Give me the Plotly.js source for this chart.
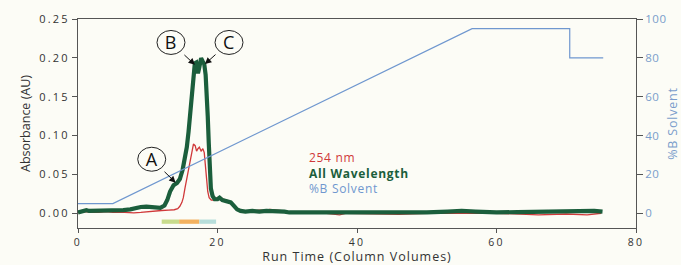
<!DOCTYPE html>
<html>
<head>
<meta charset="utf-8">
<script src="https://cdn.plot.ly/plotly-3.0.1.min.js"></script>
<style>
  html, body { margin: 0; padding: 0; background: #fcfcf6; }
  #chart { width: 681px; height: 265px; }
  #chart .ytick text { letter-spacing: 2.2px; }
  #chart .xtick text { letter-spacing: 2.3px; }
  #chart .y2tick text { letter-spacing: 0.5px; }
  #chart .xtitle { letter-spacing: 1.0px; }
  #chart .y2title { letter-spacing: 0.8px; }
  #chart .annotation-text { letter-spacing: 0.7px; }
</style>
</head>
<body>
<div id="chart"></div>
<script>
// Run time (column volumes) and absorbance for the "All Wavelength" trace
const timeAll = [0, 0.5, 1.2, 1.6, 2.5, 3.5, 4.5, 5.5, 6.5, 7.5, 8.3, 9.0, 9.8, 10.3, 10.8, 11.3, 11.8, 12.4, 12.8, 13.2, 13.7, 14.2, 14.6, 15.0, 15.3, 15.6, 15.85, 16.06, 16.3, 16.5, 16.75, 16.95, 17.2, 17.4, 17.65, 17.85, 18.1, 18.3, 18.45, 18.6, 18.75, 18.9, 19.05, 19.3, 19.6, 20.0, 20.3, 20.7, 21.1, 21.5, 21.9, 22.3, 22.8, 23.3, 24, 25, 26, 27, 28, 29, 29.6, 30.3, 32, 35, 40, 45, 50, 53, 55, 57, 60, 63, 66, 68, 70, 72, 74, 75.2];
const absAll = [0.001, 0.002, 0.004, 0.003, 0.003, 0.004, 0.003, 0.004, 0.004, 0.005, 0.007, 0.008, 0.0085, 0.008, 0.007, 0.0065, 0.007, 0.010, 0.017, 0.028, 0.036, 0.039, 0.044, 0.056, 0.068, 0.085, 0.105, 0.128, 0.155, 0.176, 0.193, 0.194, 0.180, 0.188, 0.1995, 0.196, 0.192, 0.178, 0.160, 0.125, 0.090, 0.055, 0.032, 0.022, 0.018, 0.018, 0.020, 0.017, 0.016, 0.016, 0.014, 0.010, 0.005, 0.003, 0.002, 0.003, 0.002, 0.003, 0.003, 0.003, 0.002, 0.001, 0.001, 0.001, 0.0005, 0.001, 0.001, 0.002, 0.003, 0.002, 0.001, 0.0015, 0.002, 0.003, 0.002, 0.003, 0.003, 0.002];

// 254 nm trace
const time254 = [0, 1, 2, 3, 4, 5, 6, 7, 8, 9, 10, 11, 12, 13, 13.8, 14.3, 14.6, 14.9, 15.1, 15.35, 15.6, 15.85, 16.1, 16.35, 16.55, 16.8, 17.0, 17.2, 17.4, 17.65, 17.9, 18.1, 18.3, 18.45, 18.6, 18.8, 19.1, 19.5, 20.0, 20.4, 20.8, 21.3, 21.8, 22.3, 22.8, 23.3, 24, 25, 26, 27, 27.5, 28.5, 29.5, 30.3, 35, 37.5, 38.5, 46, 50, 60, 66, 70, 73, 75];
const abs254 = [0.0005, 0.002, 0.001, 0.001, 0.002, 0.001, 0.0015, 0.001, 0.0005, 0.001, 0.002, 0.003, 0.0035, 0.004, 0.0045, 0.006, 0.009, 0.014, 0.020, 0.033, 0.045, 0.060, 0.072, 0.084, 0.089, 0.087, 0.080, 0.083, 0.085, 0.080, 0.083, 0.078, 0.062, 0.043, 0.028, 0.020, 0.017, 0.017, 0.020, 0.021, 0.018, 0.017, 0.015, 0.011, 0.006, 0.004, 0.003, 0.003, 0.004, 0.004, 0.005, 0.004, 0.003, 0.0005, 0.0005, -0.002, 0.0, -0.0015, 0.0, 0.0, -0.002, -0.001, -0.002, 0.0];

// %B solvent gradient
const timeB = [0, 5, 56.5, 70.5, 70.5, 75.3];
const pctB = [5, 5, 95, 95, 80, 80];

// Collected fractions (start, end) and colours
const fracStart = [12.0, 14.5, 17.4];
const fracEnd = [14.5, 17.4, 19.8];
const fracColors = ['#c8db8c', '#f3b15e', '#b7dedb'];

// Peak labels: letter, arrow tip (x, AU), circle centre (x, AU)
const peakLetters = ['A', 'B', 'C'];
const tipX = [14.0, 16.77, 18.2];
const tipY = [0.0394, 0.191, 0.192];
const circX = [10.57, 13.33, 21.65];
const circY = [0.0695, 0.2198, 0.2198];

const legendNames = ['254 nm', 'All Wavelength', '%B Solvent'];
const colRed = '#d0393a', colGreen = '#1b5e3c', colBlue = '#6f97cf';

const xTicks = [0, 20, 40, 60, 80];
const yTicks = [0, 0.05, 0.10, 0.15, 0.20, 0.25];
const y2Ticks = [0, 20, 40, 60, 80, 100];

const font = 'Open Sans, sans-serif';

const traces = [
  { x: time254, y: abs254, type: 'scatter', mode: 'lines', name: legendNames[0],
    line: { color: colRed, width: 1.3 }, yaxis: 'y' },
  { x: timeAll, y: absAll, type: 'scatter', mode: 'lines', name: legendNames[1],
    line: { color: colGreen, width: 4.2 }, yaxis: 'y' },
  { x: timeB, y: pctB, type: 'scatter', mode: 'lines', name: legendNames[2],
    line: { color: colBlue, width: 1.2 }, yaxis: 'y2' }
];

const shapes = [];
for (let i = 0; i < fracStart.length; i++) {
  shapes.push({ type: 'rect', xref: 'x', yref: 'y', x0: fracStart[i], x1: fracEnd[i],
    y0: -0.0136, y1: -0.0081, fillcolor: fracColors[i], line: { width: 0 }, layer: 'above' });
}
for (let i = 0; i < peakLetters.length; i++) {
  shapes.push({ type: 'circle', xref: 'x', yref: 'y', xsizemode: 'pixel', ysizemode: 'pixel',
    xanchor: circX[i], yanchor: circY[i], x0: -14, x1: 14, y0: -12, y1: 12,
    line: { color: '#222', width: 1 }, fillcolor: 'rgba(0,0,0,0)', layer: 'above' });
}

const annotations = [];
for (let i = 0; i < peakLetters.length; i++) {
  annotations.push({ x: tipX[i], y: tipY[i], xref: 'x', yref: 'y',
    text: peakLetters[i], showarrow: true, arrowhead: 2, arrowsize: 1.3, arrowwidth: 1,
    arrowcolor: '#111', axref: 'pixel', ayref: 'pixel',
    ax: (circX[i] - tipX[i]) * 6.975, ay: -(circY[i] - tipY[i]) * 777,
    width: 24, height: 22, font: { family: font, size: 18, color: '#111' } });
}
annotations.push({ xref: 'paper', yref: 'paper', x: 0.41, y: 0.263, xanchor: 'left',
  yanchor: 'middle', align: 'left', showarrow: false,
  text: '<span style="color:' + colRed + '">' + legendNames[0] + '</span><br>' +
        '<b style="color:' + colGreen + '">' + legendNames[1] + '</b><br>' +
        '<span style="color:' + colBlue + '">' + legendNames[2] + '</span>',
  font: { family: font, size: 12, color: '#333' } });

const layout = {
  width: 681, height: 265,
  margin: { l: 78, r: 45, t: 19, b: 37 },
  paper_bgcolor: '#fcfcf6', plot_bgcolor: '#fcfcf6',
  showlegend: false,
  font: { family: font, color: '#333' },
  xaxis: {
    range: [0, 80], tickvals: xTicks, ticks: 'outside', ticklen: 4, tickcolor: '#555',
    showline: true, linecolor: '#555', linewidth: 1, mirror: true, showgrid: false, zeroline: false,
    tickfont: { size: 10.5, color: '#333' },
    title: { text: 'Run Time (Column Volumes)', font: { size: 12.5, color: '#333' }, standoff: 11 }
  },
  yaxis: {
    range: [-0.019, 0.25], tickvals: yTicks, tickformat: '.2f', ticks: 'outside', ticklen: 5,
    tickcolor: '#555', showline: true, linecolor: '#555', linewidth: 1, showgrid: false, zeroline: false,
    tickfont: { size: 11, color: '#333' },
    title: { text: 'Absorbance (AU)', font: { size: 12.5, color: '#333' }, standoff: 14 }
  },
  yaxis2: {
    range: [-7.6, 100], tickvals: y2Ticks, overlaying: 'y', side: 'right', ticks: 'outside',
    ticklen: 6, tickcolor: '#555', showline: true, linecolor: '#555', linewidth: 1,
    showgrid: false, zeroline: false,
    tickfont: { size: 11.5, color: '#7a9ccb' },
    title: { text: '%B Solvent', font: { size: 12.5, color: '#7a9ccb' }, standoff: 12 }
  },
  shapes: shapes,
  annotations: annotations
};

Plotly.newPlot('chart', traces, layout, { staticPlot: true, displayModeBar: false });
</script>
</body>
</html>
